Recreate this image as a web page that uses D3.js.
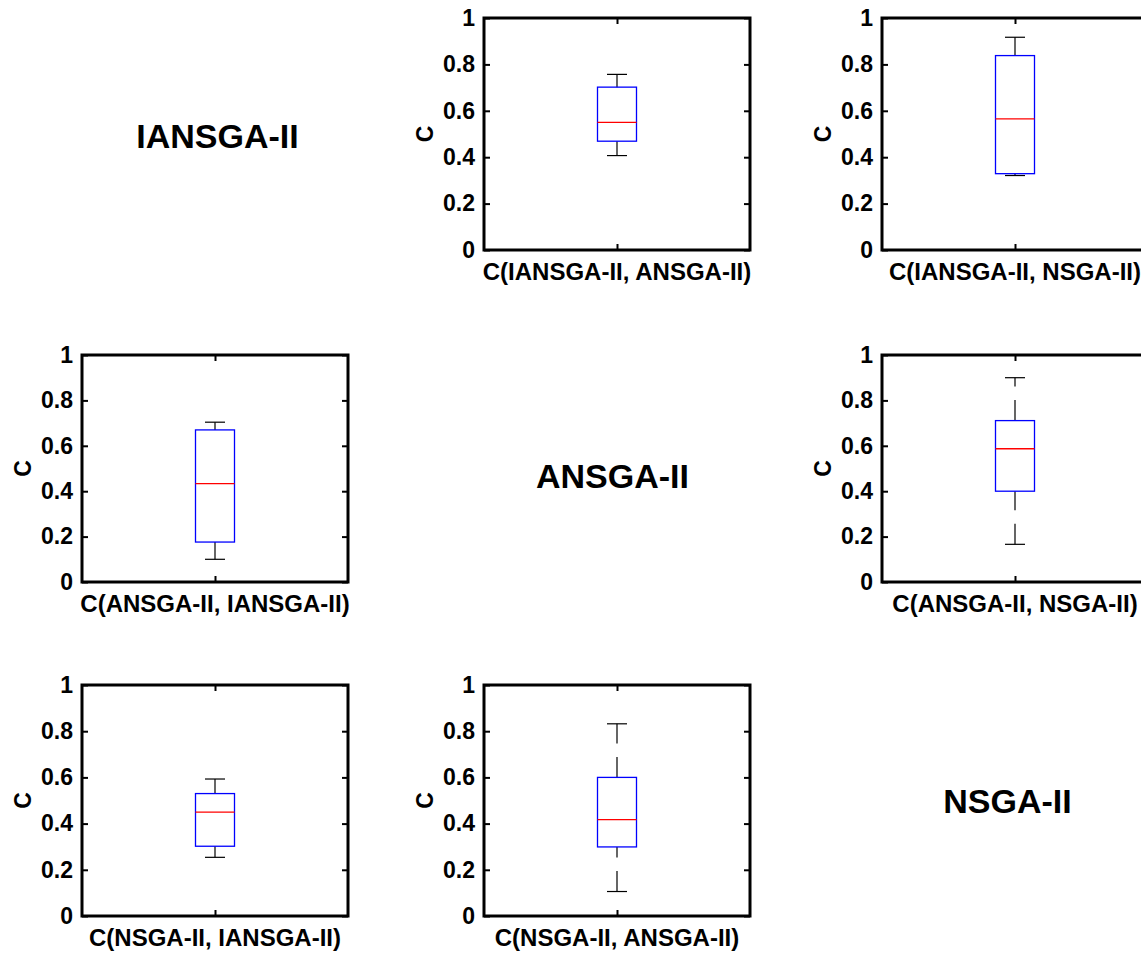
<!DOCTYPE html>
<html>
<head>
<meta charset="utf-8">
<script src="https://cdn.jsdelivr.net/npm/d3@7"></script>
<style>
  body { margin: 0; background: #fff; }
  svg text { font-family: "Liberation Sans", Arial, Helvetica, sans-serif; font-weight: bold; fill: #000; }
</style>
</head>
<body>
<svg id="chart" width="1141" height="955"></svg>
<script>
// algorithms on the diagonal
var algos = ["IANSGA-II", "ANSGA-II", "NSGA-II"];

// one box per off-diagonal cell: C(rowAlgo, colAlgo)
var pairRow = [0, 0, 1, 1, 2, 2];
var pairCol = [1, 2, 0, 2, 0, 1];
var pairLabels = ["C(IANSGA-II, ANSGA-II)", "C(IANSGA-II, NSGA-II)",
                  "C(ANSGA-II, IANSGA-II)", "C(ANSGA-II, NSGA-II)",
                  "C(NSGA-II, IANSGA-II)", "C(NSGA-II, ANSGA-II)"];
var whiskerLo = [0.407, 0.321, 0.100, 0.166, 0.254, 0.106];
var q1        = [0.469, 0.329, 0.176, 0.400, 0.302, 0.299];
var medians   = [0.550, 0.565, 0.433, 0.587, 0.450, 0.417];
var q3        = [0.702, 0.838, 0.670, 0.711, 0.530, 0.600];
var whiskerHi = [0.757, 0.917, 0.704, 0.900, 0.593, 0.832];

var yTicks = [0, 0.2, 0.4, 0.6, 0.8, 1];
var yTickLabels = ["0", "0.2", "0.4", "0.6", "0.8", "1"];

// layout of the 3x3 grid
var colX = [82, 484, 882], cellW = 266;
var rowY = [18, 355, 685], rowH = [232, 227, 231];
var titleX = [217.5, 612.5, 1007.5], titleY = [148, 488, 813];

var svg = d3.select("#chart");

algos.forEach(function(name, i) {
  svg.append("text")
    .attr("x", titleX[i]).attr("y", titleY[i])
    .attr("text-anchor", "middle")
    .style("font-size", "34px")
    .text(name);
});

pairLabels.forEach(function(label, i) {
  var w = cellW, h = rowH[pairRow[i]];
  var g = svg.append("g")
    .attr("transform", "translate(" + colX[pairCol[i]] + "," + rowY[pairRow[i]] + ")");

  var y = d3.scaleLinear().domain([0, 1]).range([h, 0]);
  var x = d3.scalePoint().domain([label]).range([0, w]).padding(0.5);
  var cx = x(label), bw = 39, cw = 20;

  // whiskers (dashed, drawn from low end to high end)
  [[whiskerLo[i], q1[i]], [q3[i], whiskerHi[i]]].forEach(function(seg) {
    g.append("line")
      .attr("x1", cx).attr("x2", cx)
      .attr("y1", y(seg[0])).attr("y2", y(seg[1]))
      .attr("stroke", "#000").attr("stroke-width", 1.2)
      .attr("stroke-dasharray", "20.5,13.5");
  });
  [whiskerLo[i], whiskerHi[i]].forEach(function(v) {
    g.append("line")
      .attr("x1", cx - cw / 2).attr("x2", cx + cw / 2)
      .attr("y1", y(v)).attr("y2", y(v))
      .attr("stroke", "#000").attr("stroke-width", 1.2);
  });

  g.append("rect")
    .attr("x", cx - bw / 2).attr("width", bw)
    .attr("y", y(q3[i])).attr("height", y(q1[i]) - y(q3[i]))
    .attr("fill", "none").attr("stroke", "#0000ff").attr("stroke-width", 1.3);
  g.append("line")
    .attr("x1", cx - bw / 2).attr("x2", cx + bw / 2)
    .attr("y1", y(medians[i])).attr("y2", y(medians[i]))
    .attr("stroke", "#ff0000").attr("stroke-width", 1.3);

  // axes with inward ticks on all four sides
  var fmt = function(d) { return yTickLabels[yTicks.indexOf(d)]; };
  var left = g.append("g").call(d3.axisLeft(y).tickValues(yTicks).tickFormat(fmt)
    .tickSizeInner(-6).tickSizeOuter(0).tickPadding(9));
  var right = g.append("g").attr("transform", "translate(" + w + ",0)")
    .call(d3.axisRight(y).tickValues(yTicks).tickFormat("").tickSizeInner(-6).tickSizeOuter(0));
  var bottom = g.append("g").attr("transform", "translate(0," + h + ")")
    .call(d3.axisBottom(x).tickFormat("").tickSizeInner(-6).tickSizeOuter(0));
  var top = g.append("g")
    .call(d3.axisTop(x).tickFormat("").tickSizeInner(-6).tickSizeOuter(0));
  [left, right, bottom, top].forEach(function(a) {
    a.select(".domain").remove();
    a.selectAll(".tick line").attr("stroke", "#000").attr("stroke-width", 2);
  });
  left.selectAll(".tick text")
    .style("font-size", "23px")
    .style("font-family", "'Liberation Sans', Arial, sans-serif")
    .style("font-weight", "bold")
    .attr("fill", "#000");

  g.append("rect")
    .attr("width", w).attr("height", h)
    .attr("fill", "none").attr("stroke", "#000").attr("stroke-width", 3);

  g.append("text")
    .attr("x", w / 2).attr("y", h + 30)
    .attr("text-anchor", "middle")
    .style("font-size", "24px")
    .text(label);

  g.append("text")
    .attr("transform", "translate(-51," + (h / 2) + ") rotate(-90)")
    .attr("text-anchor", "middle")
    .style("font-size", "23px")
    .text("C");
});
</script>
</body>
</html>
